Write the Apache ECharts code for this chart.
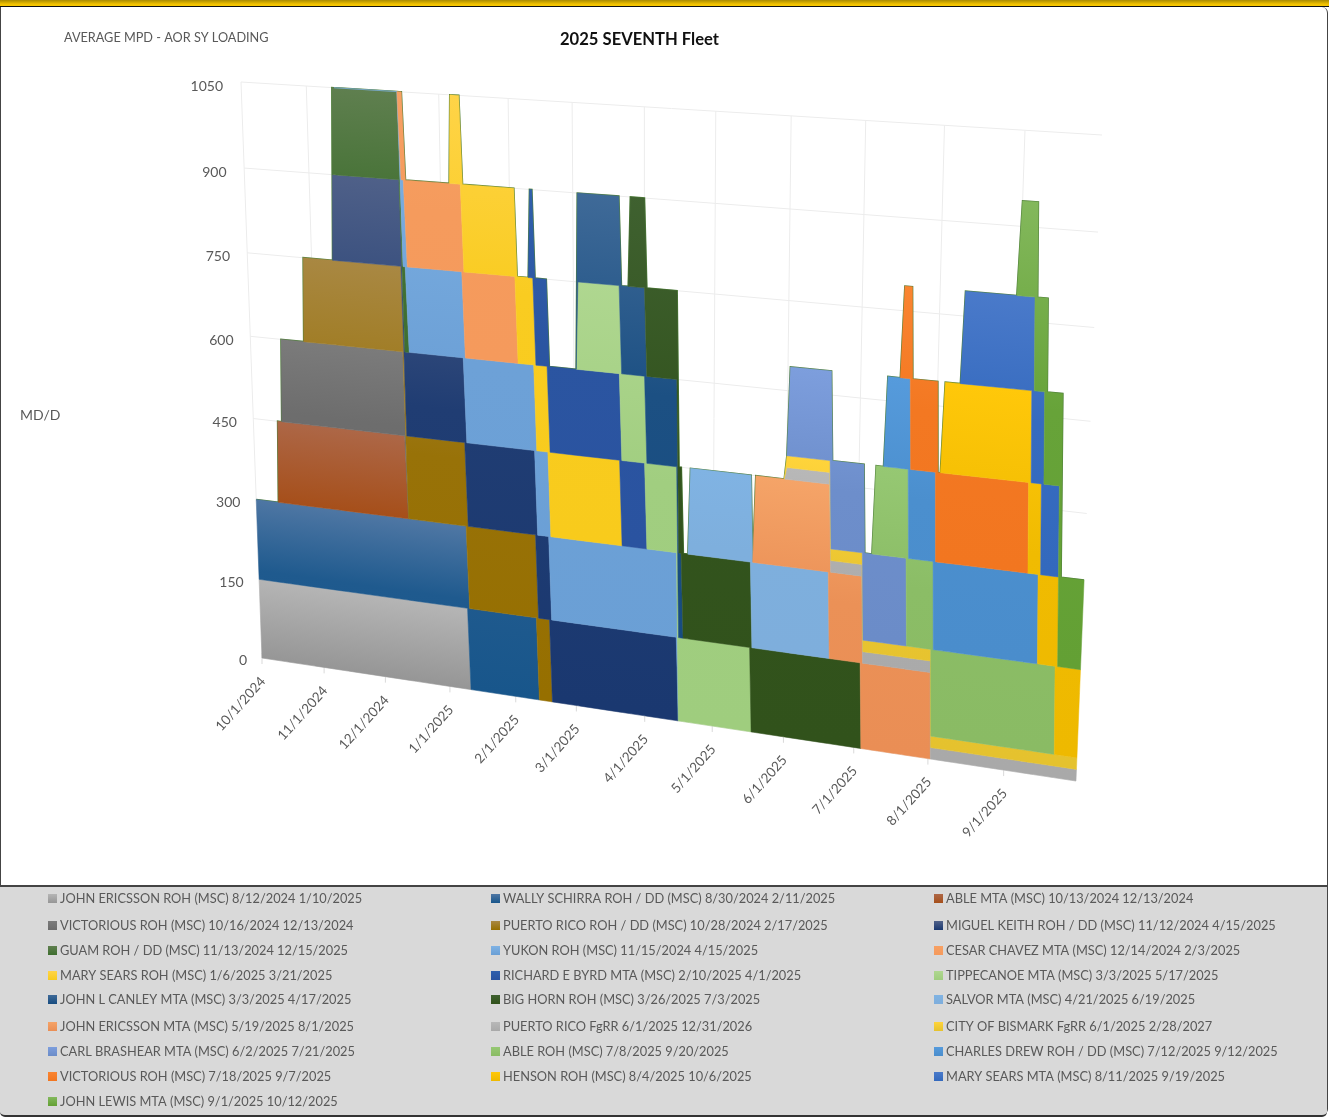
<!DOCTYPE html>
<html>
<head>
<meta charset="utf-8">
<script src="https://cdn.jsdelivr.net/npm/echarts@6/dist/echarts.min.js"></script>
<style>
html,body{margin:0;padding:0;background:#fff;width:1329px;height:1118px;overflow:hidden}
#topbar{position:absolute;left:0;top:0;width:1329px;height:6px;background:linear-gradient(#a88a00,#f2c200 70%,#f7c800);border-bottom:1.5px solid #111}
#frame{position:absolute;left:0;top:7px;width:1326px;height:1107px;border:1.5px solid #444;border-top:0;border-radius:0 6px 6px 6px;box-sizing:content-box}
#panel{position:absolute;left:0;top:885px;width:1327px;background:#d9d9d9;border-top:2px solid #444;border-bottom:2px solid #333;border-radius:0 0 5px 5px;box-sizing:border-box;height:232px}
#chart{position:absolute;left:0;top:0;width:1329px;height:1118px}
</style>
</head>
<body>
<div id="topbar"></div><div id="frame"></div><div id="panel"></div>
<div id="chart"></div>
<script>
// ---------- data ----------
const shipNames = [
 'JOHN ERICSSON ROH (MSC) 8/12/2024 1/10/2025','WALLY SCHIRRA ROH / DD (MSC) 8/30/2024 2/11/2025','ABLE MTA (MSC) 10/13/2024 12/13/2024',
 'VICTORIOUS ROH (MSC) 10/16/2024 12/13/2024','PUERTO RICO ROH / DD (MSC) 10/28/2024 2/17/2025','MIGUEL KEITH ROH / DD (MSC) 11/12/2024 4/15/2025',
 'GUAM ROH / DD (MSC) 11/13/2024 12/15/2025','YUKON ROH (MSC) 11/15/2024 4/15/2025','CESAR CHAVEZ MTA (MSC) 12/14/2024 2/3/2025',
 'MARY SEARS ROH (MSC) 1/6/2025 3/21/2025','RICHARD E BYRD MTA (MSC) 2/10/2025 4/1/2025','TIPPECANOE MTA (MSC) 3/3/2025 5/17/2025',
 'JOHN L CANLEY MTA (MSC) 3/3/2025 4/17/2025','BIG HORN ROH (MSC) 3/26/2025 7/3/2025','SALVOR MTA (MSC) 4/21/2025 6/19/2025',
 'JOHN ERICSSON MTA (MSC) 5/19/2025 8/1/2025','PUERTO RICO FgRR 6/1/2025 12/31/2026','CITY OF BISMARK FgRR 6/1/2025 2/28/2027',
 'CARL BRASHEAR MTA (MSC) 6/2/2025 7/21/2025','ABLE ROH (MSC) 7/8/2025 9/20/2025','CHARLES DREW ROH / DD (MSC) 7/12/2025 9/12/2025',
 'VICTORIOUS ROH (MSC) 7/18/2025 9/7/2025','HENSON ROH (MSC) 8/4/2025 10/6/2025','MARY SEARS MTA (MSC) 8/11/2025 9/19/2025',
 'JOHN LEWIS MTA (MSC) 9/1/2025 10/12/2025'];
const startDates = ['8/12/2024','8/30/2024','10/13/2024','10/16/2024','10/28/2024','11/12/2024','11/13/2024','11/15/2024','12/14/2024','1/6/2025','2/10/2025','3/3/2025','3/3/2025','3/26/2025','4/21/2025','5/19/2025','6/1/2025','6/1/2025','6/2/2025','7/8/2025','7/12/2025','7/18/2025','8/4/2025','8/11/2025','9/1/2025'];
const endDates = ['1/10/2025','2/11/2025','12/13/2024','12/13/2024','2/17/2025','4/15/2025','12/15/2024','4/15/2025','2/3/2025','3/21/2025','4/1/2025','5/17/2025','4/17/2025','7/3/2025','6/19/2025','8/1/2025','12/31/2026','2/28/2027','7/21/2025','9/20/2025','9/12/2025','9/7/2025','10/6/2025','9/19/2025','10/12/2025'];
const mpdValues = [150,150,150,150,150,150,150,150,150,150,150,150,150,150,150,150,20,20,150,150,150,150,150,150,150];
const topColors = ['#b5b5b5','#4f77a4','#ad6747','#7b7b7b','#a98843','#506189','#5f7f4f','#7fb2e4','#f7a063','#ffd448','#3060ac','#afd790','#3f6a98','#3f6130','#80b3e3','#f5a468','#b8b8b8','#ffd43b','#7d9edd','#96c873','#569bdc','#fa8531','#ffc80a','#4a7aca','#83b85c'];
const bottomColors = ['#969696','#18568b','#a64f1a','#6b6b6b','#966f00','#1a3870','#3f6f2f','#6a9fd5','#f59a5c','#f8cb1c','#2a53a0','#9fcd7e','#174c80','#31521b','#7eaedc','#ea8e55','#a9a9a9','#e5c22e','#6b8cc8','#8abb64','#4a8dcc','#f27620','#eeb900','#3369bd','#63a034'];
const yTicks = [0,150,300,450,600,750,900,1050];
const xTicks = ['10/1/2024','11/1/2024','12/1/2024','1/1/2025','2/1/2025','3/1/2025','4/1/2025','5/1/2025','6/1/2025','7/1/2025','8/1/2025','9/1/2025'];
const axisStart = '10/1/2024', axisEnd = '9/30/2025', yMax = 1050;

// ---------- layout ----------
const DAY = 86400000, GRID = {left:262, top:84, width:814, height:574};
const Q = {p00:[262,658], p10:[1076,781], p11:[1102,135], p01:[241,82]};
const legendCols = [48,491,934], legendRows = [892,919,944,969,993,1020,1045,1070,1095];
const FONT = 'Lato';
const INK = '#595959';

const toT = s => { const [m,d,y] = s.split('/').map(Number); return Date.UTC(y,m-1,d); };
const minT = toT(axisStart), maxT = toT(axisEnd);
const S = startDates.map(toT), E = endDates.map(toT);

// plane -> picture perspective
const H = (function(){
  const {p00,p10,p11,p01} = Q;
  const dx1=p10[0]-p11[0], dx2=p01[0]-p11[0], sx=p00[0]-p10[0]+p11[0]-p01[0];
  const dy1=p10[1]-p11[1], dy2=p01[1]-p11[1], sy=p00[1]-p10[1]+p11[1]-p01[1];
  const den=dx1*dy2-dx2*dy1, g=(sx*dy2-dx2*sy)/den, h=(dx1*sy-sx*dy1)/den;
  return {a:p10[0]-p00[0]+g*p10[0], b:p01[0]-p00[0]+h*p01[0], c:p00[0],
          d:p10[1]-p00[1]+g*p10[1], e:p01[1]-p00[1]+h*p01[1], f:p00[1], g, h};
})();
function warp(p){
  const u=(p[0]-GRID.left)/GRID.width, v=(GRID.top+GRID.height-p[1])/GRID.height, w=H.g*u+H.h*v+1;
  return [(H.a*u+H.b*v+H.c)/w, (H.d*u+H.e*v+H.f)/w];
}
const at = (api,t,v) => warp(api.coord([t,v]));

function mix(c1,c2,k){
  const n=c=>[1,3,5].map(j=>parseInt(c.substr(j,2),16));
  const a=n(c1), b=n(c2);
  return 'rgb('+a.map((x,j)=>Math.round(x+(b[j]-x)*k)).join(',')+')';
}

// stack levels
function own(i,t){
  if (t<=S[i]-DAY || t>=E[i]+DAY) return 0;
  if (t<S[i]) return mpdValues[i]*(t-S[i]+DAY)/DAY;
  if (t>E[i]) return mpdValues[i]*(E[i]+DAY-t)/DAY;
  return mpdValues[i];
}
function level(i,t){ let s=0; for(let k=0;k<=i;k++) s+=own(k,t); return Math.min(s,yMax); }
const breaks = [...new Set([minT,maxT].concat(S.flatMap(t=>[t-DAY,t])).concat(E.flatMap(t=>[t,t+DAY])))]
  .filter(t=>t>=minT&&t<=maxT).sort((a,b)=>a-b);

function bandRender(i){
  return function(params, api){
    const ts = breaks.filter(t=>t>=Math.max(minT,S[i]-DAY) && t<=Math.min(maxT,E[i]+DAY));
    if (ts.length<2) return null;
    const up = ts.map(t=>level(i,t)), lo = ts.map(t=>level(i-1,t));
    const pts = ts.map((t,k)=>at(api,t,up[k])).concat(ts.map((t,k)=>at(api,t,lo[k])).reverse());
    const vTop=Math.max(...up), vBot=Math.min(...lo), tMid=(ts[0]+ts[ts.length-1])/2, vMid=(vTop+vBot)/2;
    const A=at(api,tMid,vTop), B=at(api,tMid,vBot), e0=at(api,minT,vMid), e1=at(api,maxT,vMid);
    let ex=e1[0]-e0[0], ey=e1[1]-e0[1]; const el=Math.hypot(ex,ey); ex/=el; ey/=el;
    const nx=-ey, ny=ex, L=(B[0]-A[0])*nx+(B[1]-A[1])*ny;
    const stops=[{offset:0,color:topColors[i]}];
    if (vTop-vBot>200) stops.push({offset:0.45,color:mix(topColors[i],bottomColors[i],0.88)});
    stops.push({offset:1,color:bottomColors[i]});
    const fill={type:'linear',global:true,x:A[0],y:A[1],x2:A[0]+nx*L,y2:A[1]+ny*L,colorStops:stops};
    return {type:'polygon',shape:{points:pts},style:{fill,stroke:fill,lineWidth:0.5}};
  };
}
function silhouetteRender(params, api){
  const last=shipNames.length-1;
  const pts=breaks.map(t=>at(api,t,level(last,t)));
  return {type:'polyline',shape:{points:pts},style:{fill:null,stroke:'#4f7f3a',lineWidth:1.7}};
}
function gridRender(params, api){
  const kids=[], line='#ececec';
  yTicks.forEach(v=>{ const a=at(api,minT,v), b=at(api,maxT,v);
    kids.push({type:'line',shape:{x1:a[0],y1:a[1],x2:b[0],y2:b[1]},style:{stroke:line,lineWidth:1}}); });
  xTicks.forEach(s=>{ const t=toT(s), a=at(api,t,0), b=at(api,t,yMax);
    kids.push({type:'line',shape:{x1:a[0],y1:a[1],x2:b[0],y2:b[1]},style:{stroke:line,lineWidth:1}});
    kids.push({type:'line',shape:{x1:a[0],y1:a[1]-5,x2:a[0],y2:a[1]+6},style:{stroke:'#d9d9d9',lineWidth:1}}); });
  return {type:'group',children:kids};
}
function axisRender(params, api){
  const kids=[];
  xTicks.forEach(s=>{ const p=at(api,toT(s),0);
    kids.push({type:'text',x:p[0]+1,y:p[1]+21,rotation:48*Math.PI/180,
      style:{text:s,textAlign:'right',textVerticalAlign:'middle',fill:INK,font:'13.5px '+FONT}});
  });
  yTicks.forEach(v=>{ const p=at(api,minT,v);
    kids.push({type:'text',x:p[0]-15-3*v/yMax,y:p[1]+2+2*Math.min(1,v/450),
      style:{text:String(v),textAlign:'right',textVerticalAlign:'middle',fill:INK,font:'14px '+FONT}});
  });
  return {type:'group',children:kids};
}

const helper = (name,fn)=>({type:'custom',name,data:[[minT,0]],renderItem:fn,silent:true,clip:false,encode:{x:0,y:1}});
const bands = shipNames.map((n,i)=>({type:'custom',name:n,silent:true,clip:false,
  data:[[Math.max(minT,S[i]),0]],encode:{x:0,y:1},
  itemStyle:{color:{type:'linear',x:0,y:0,x2:0,y2:1,colorStops:[{offset:0,color:topColors[i]},{offset:1,color:bottomColors[i]}]}},
  renderItem:bandRender(i)}));

const legends = shipNames.map((n,i)=>({
  left:legendCols[i%3], top:legendRows[Math.floor(i/3)], data:[n], icon:'rect', itemWidth:9, itemHeight:9,
  padding:0, selectedMode:false, textStyle:{color:INK,fontFamily:FONT,fontSize:12.8,padding:[0,0,0,-2]}
}));

const chart = echarts.init(document.getElementById('chart'), null, {renderer:'canvas'});
chart.setOption({
  animation:false, backgroundColor:'transparent',
  title:[
    {text:'2025 SEVENTH Fleet',left:560,top:31,padding:0,textStyle:{fontFamily:FONT,fontSize:16.6,fontWeight:'bold',color:'#111'}},
    {text:'AVERAGE MPD - AOR SY LOADING',left:64,top:31,padding:0,textStyle:{fontFamily:FONT,fontSize:12.7,fontWeight:'normal',color:INK}},
    {text:'MD/D',left:20,top:408,padding:0,textStyle:{fontFamily:FONT,fontSize:14,fontWeight:'normal',color:INK}}
  ],
  legend:legends,
  grid:{left:GRID.left,top:GRID.top,width:GRID.width,height:GRID.height},
  xAxis:{type:'time',min:minT,max:maxT,show:false},
  yAxis:{type:'value',min:0,max:yMax,interval:150,show:false},
  series:[helper('gridlines',gridRender),helper('stack outline',silhouetteRender)].concat(bands,[helper('axis',axisRender)])
});
</script>
</body>
</html>
